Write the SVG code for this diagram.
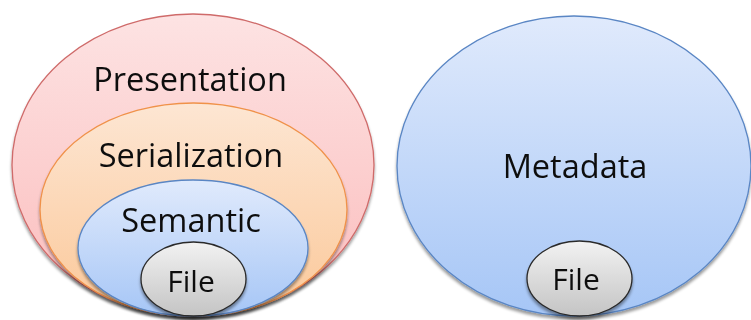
<svg xmlns="http://www.w3.org/2000/svg" width="751" height="320" viewBox="0 0 751 320">
  <defs>
    <linearGradient id="gRed" x1="0" y1="0" x2="0" y2="1">
      <stop offset="0" stop-color="#fde3e3"/>
      <stop offset="1" stop-color="#fbbcbc"/>
    </linearGradient>
    <linearGradient id="gOrange" x1="0" y1="0" x2="0" y2="1">
      <stop offset="0" stop-color="#fde6d3"/>
      <stop offset="1" stop-color="#fbc899"/>
    </linearGradient>
    <linearGradient id="gBlue" x1="0" y1="0" x2="0" y2="1">
      <stop offset="0" stop-color="#e0eafc"/>
      <stop offset="1" stop-color="#a6c6f6"/>
    </linearGradient>
    <linearGradient id="gGray" x1="0" y1="0" x2="0" y2="1">
      <stop offset="0" stop-color="#f2f2f2"/>
      <stop offset="1" stop-color="#c4c4c4"/>
    </linearGradient>
    <filter id="shadow" x="-10%" y="-10%" width="120%" height="125%">
      <feGaussianBlur in="SourceAlpha" stdDeviation="1.5"/>
      <feOffset dx="0" dy="2.5" result="off"/>
      <feComponentTransfer><feFuncA type="linear" slope="0.4"/></feComponentTransfer>
      <feMerge><feMergeNode/><feMergeNode in="SourceGraphic"/></feMerge>
    </filter>
  </defs>
  <style>
    .lbl { font-family: "Open Sans", "Liberation Sans", sans-serif; fill: #111; text-anchor: middle; }
    .big { font-size: 32.5px; }
    .file { font-size: 30px; }
    .red { fill: url(#gRed); stroke: #cf6b6a; stroke-width: 1.3; }
    .orange { fill: url(#gOrange); stroke: #f0924a; stroke-width: 1.3; }
    .blue { fill: url(#gBlue); stroke: #5a86c4; stroke-width: 1.3; }
    .gray { fill: url(#gGray); stroke: #2a2a2a; stroke-width: 1.3; }
  </style>

  <!-- Left stack: nested layers -->
  <g id="presentation" filter="url(#shadow)">
    <ellipse class="red" cx="193" cy="165" rx="181" ry="151"/>
    <text class="lbl big" x="190" y="91">Presentation</text>
  </g>
  <g id="serialization" filter="url(#shadow)">
    <ellipse class="orange" cx="193.5" cy="209.5" rx="153.5" ry="106.5"/>
    <text class="lbl big" x="191" y="167">Serialization</text>
  </g>
  <g id="semantic" filter="url(#shadow)">
    <ellipse class="blue" cx="193" cy="248" rx="115" ry="68"/>
    <text class="lbl big" x="191" y="232">Semantic</text>
  </g>
  <g id="file-left" filter="url(#shadow)">
    <ellipse class="gray" cx="193.5" cy="279" rx="52.5" ry="37"/>
    <text class="lbl file" x="191" y="292">File</text>
  </g>

  <!-- Right: metadata with file -->
  <g id="metadata" filter="url(#shadow)">
    <ellipse class="blue" cx="574" cy="166" rx="177" ry="150"/>
    <text class="lbl big" x="575" y="178">Metadata</text>
  </g>
  <g id="file-right" filter="url(#shadow)">
    <ellipse class="gray" cx="579.5" cy="278.5" rx="52.5" ry="37.5"/>
    <text class="lbl file" x="576" y="290">File</text>
  </g>

  <g id="connectors"/>
</svg>
